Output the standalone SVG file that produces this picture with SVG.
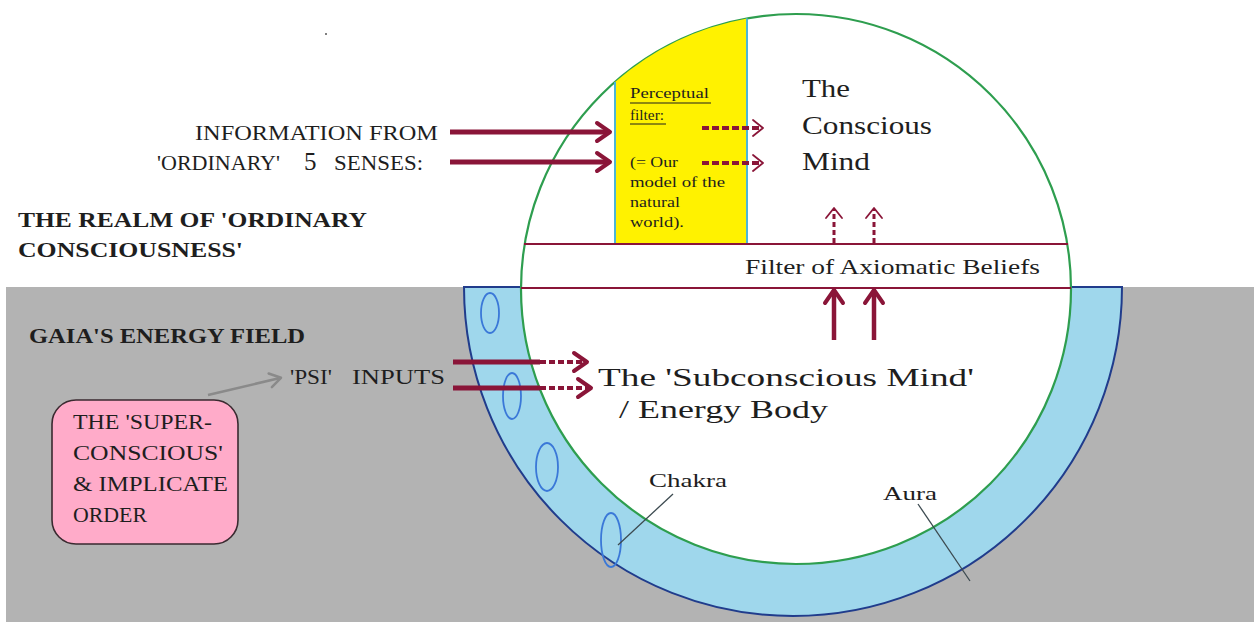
<svg xmlns="http://www.w3.org/2000/svg" width="1254" height="625" viewBox="0 0 1254 625">
<style>
.t{font-family:"Liberation Serif","Times New Roman",serif;fill:#1e1e1e}
.b{font-weight:bold;font-size:22px}
.mar{stroke:#8a1538;fill:none}
.chak{fill:none;stroke:#3a78d8;stroke-width:1.8}
.lead{stroke:#3c4a50;stroke-width:1.3;fill:none}
</style>
<defs>
<marker id="hThick" viewBox="-16 -12 20 24" markerWidth="20" markerHeight="24" refX="0" refY="0" orient="auto" markerUnits="userSpaceOnUse">
<path d="M-12,-9 L1,0 L-12,9" fill="none" stroke="#8a1538" stroke-width="4" stroke-linecap="round" stroke-linejoin="round"/>
</marker>
<marker id="hThin" viewBox="-14 -12 18 24" markerWidth="18" markerHeight="24" refX="0" refY="0" orient="auto" markerUnits="userSpaceOnUse">
<path d="M-9,-8 L1,0 L-9,8" fill="none" stroke="#8a1538" stroke-width="1.8" stroke-linecap="round" stroke-linejoin="round"/>
</marker>
<marker id="hGray" viewBox="-14 -12 18 24" markerWidth="18" markerHeight="24" refX="0" refY="0" orient="auto" markerUnits="userSpaceOnUse">
<path d="M-10,-7 L1,0 L-10,7" fill="none" stroke="#8a8a8a" stroke-width="2.5" stroke-linecap="round" stroke-linejoin="round"/>
</marker>
</defs>
<rect x="0" y="0" width="1254" height="625" fill="#ffffff"/>
<g id="gaia-field">
<rect x="6" y="287" width="1248" height="335" fill="#b3b3b3"/>
</g>
<g id="aura">
<path d="M464,287 A329,329 0 0 0 1122,287 Z" fill="#9fd7ec" stroke="#203c8c" stroke-width="2"/>
<ellipse class="chak" cx="490" cy="313" rx="9" ry="20"/>
<ellipse class="chak" cx="512" cy="396" rx="9" ry="23"/>
<ellipse class="chak" cx="547" cy="467" rx="11" ry="24"/>
<ellipse class="chak" cx="611" cy="540" rx="10" ry="27"/>
</g>
<g id="mind">
<circle cx="796" cy="289" r="275" fill="#ffffff" stroke="#2e9e4f" stroke-width="2.2"/>
</g>
<g id="perceptual-filter">
<path d="M615,82 A275,275 0 0 1 747,18.4 L747,244 L615,244 Z" fill="#fff200"/>
<line x1="615" y1="82" x2="615" y2="244" stroke="#4cb6d6" stroke-width="2"/>
<line x1="747" y1="18.4" x2="747" y2="244" stroke="#4cb6d6" stroke-width="2"/>
<text class="t" font-size="14" x="630" y="98" textLength="79" lengthAdjust="spacingAndGlyphs">Perceptual</text>
<line x1="630" y1="103" x2="711" y2="103" stroke="#1e1e1e" stroke-width="1"/>
<text class="t" font-size="14" x="630" y="120" textLength="34" lengthAdjust="spacingAndGlyphs">filter:</text>
<line x1="630" y1="124" x2="666" y2="124" stroke="#1e1e1e" stroke-width="1"/>
<text class="t" font-size="14" x="630" y="167" textLength="48" lengthAdjust="spacingAndGlyphs">(= Our</text>
<text class="t" font-size="14" x="630" y="187" textLength="95" lengthAdjust="spacingAndGlyphs">model of the</text>
<text class="t" font-size="14" x="630" y="207" textLength="50" lengthAdjust="spacingAndGlyphs">natural</text>
<text class="t" font-size="14" x="630" y="227" textLength="54" lengthAdjust="spacingAndGlyphs">world).</text>
</g>
<g id="filter-beliefs">
<line x1="524" y1="244" x2="1068" y2="244" stroke="#8a1538" stroke-width="2"/>
<line x1="521" y1="288" x2="1071" y2="288" stroke="#8a1538" stroke-width="2"/>
<text class="t" font-size="21" x="745" y="274" textLength="295" lengthAdjust="spacingAndGlyphs">Filter of Axiomatic Beliefs</text>
</g>
<g id="conscious-mind">
<text class="t" font-size="26" x="802" y="97" textLength="48" lengthAdjust="spacingAndGlyphs">The</text>
<text class="t" font-size="26" x="802" y="134" textLength="130" lengthAdjust="spacingAndGlyphs">Conscious</text>
<text class="t" font-size="26" x="802" y="170" textLength="68" lengthAdjust="spacingAndGlyphs">Mind</text>
</g>
<g id="subconscious-mind">
<text class="t" font-size="26" x="598" y="386" textLength="376" lengthAdjust="spacingAndGlyphs">The 'Subconscious Mind'</text>
<text class="t" font-size="26" x="619" y="418" textLength="209" lengthAdjust="spacingAndGlyphs">/ Energy Body</text>
</g>
<g id="senses-label">
<text class="t" font-size="21" x="195" y="140" textLength="243" lengthAdjust="spacingAndGlyphs">INFORMATION FROM</text>
<text class="t" font-size="21" y="170"><tspan x="157" textLength="123" lengthAdjust="spacingAndGlyphs">'ORDINARY'</tspan><tspan x="304" font-size="25">5</tspan><tspan x="334" textLength="89" lengthAdjust="spacingAndGlyphs">SENSES:</tspan></text>
</g>
<g id="realm-label">
<text class="t b" x="18" y="227" textLength="349" lengthAdjust="spacingAndGlyphs">THE REALM OF 'ORDINARY</text>
<text class="t b" x="18" y="257" textLength="225" lengthAdjust="spacingAndGlyphs">CONSCIOUSNESS'</text>
</g>
<g id="gaia-label">
<text class="t b" x="29" y="343" textLength="276" lengthAdjust="spacingAndGlyphs">GAIA'S ENERGY FIELD</text>
</g>
<g id="psi-label">
<text class="t" font-size="20" y="384"><tspan x="290" textLength="42" lengthAdjust="spacingAndGlyphs">'PSI'</tspan><tspan x="352" textLength="93" lengthAdjust="spacingAndGlyphs">INPUTS</tspan></text>
</g>
<g id="superconscious">
<rect x="52" y="400" width="186" height="144" rx="24" fill="#ffabc9" stroke="#3a2a30" stroke-width="1.6"/>
<text class="t" font-size="20" x="73" y="429" textLength="139" lengthAdjust="spacingAndGlyphs">THE 'SUPER-</text>
<text class="t" font-size="20" x="73" y="460" textLength="150" lengthAdjust="spacingAndGlyphs">CONSCIOUS'</text>
<text class="t" font-size="20" x="73" y="491" textLength="155" lengthAdjust="spacingAndGlyphs">&amp; IMPLICATE</text>
<text class="t" font-size="20" x="73" y="522" textLength="74" lengthAdjust="spacingAndGlyphs">ORDER</text>
</g>
<g id="chakra-label">
<text class="t" font-size="19" x="649" y="487" textLength="78" lengthAdjust="spacingAndGlyphs">Chakra</text>
</g>
<g id="aura-label">
<text class="t" font-size="19" x="883" y="500" textLength="54" lengthAdjust="spacingAndGlyphs">Aura</text>
</g>
<circle cx="326" cy="34" r="1" fill="#555"/>
<g id="connectors">
<line class="mar" x1="450" y1="132" x2="609" y2="132" stroke-width="5" marker-end="url(#hThick)"/>
<line class="mar" x1="450" y1="162" x2="609" y2="162" stroke-width="5" marker-end="url(#hThick)"/>
<line class="mar" x1="702" y1="128" x2="762" y2="128" stroke-width="4" stroke-dasharray="7,3" marker-end="url(#hThin)"/>
<line class="mar" x1="702" y1="163" x2="762" y2="163" stroke-width="4" stroke-dasharray="7,3" marker-end="url(#hThin)"/>
<line class="mar" x1="834" y1="243" x2="834" y2="209" stroke-width="3" stroke-dasharray="5,3" marker-end="url(#hThin)"/>
<line class="mar" x1="874" y1="243" x2="874" y2="209" stroke-width="3" stroke-dasharray="5,3" marker-end="url(#hThin)"/>
<line class="mar" x1="834" y1="340" x2="834" y2="291" stroke-width="4.5" marker-end="url(#hThick)"/>
<line class="mar" x1="874" y1="340" x2="874" y2="291" stroke-width="4.5" marker-end="url(#hThick)"/>
<line class="mar" x1="453" y1="362" x2="540" y2="362" stroke-width="5"/>
<line class="mar" x1="540" y1="362" x2="586" y2="362" stroke-width="4" stroke-dasharray="6,3" marker-end="url(#hThick)"/>
<line class="mar" x1="453" y1="388" x2="540" y2="388" stroke-width="5"/>
<line class="mar" x1="540" y1="388" x2="590" y2="388" stroke-width="4" stroke-dasharray="6,3" marker-end="url(#hThick)"/>
<line x1="208" y1="395" x2="280" y2="378" stroke="#8a8a8a" stroke-width="2.5" marker-end="url(#hGray)"/>
<line class="lead" x1="673" y1="494" x2="618" y2="545"/>
<line class="lead" x1="918" y1="504" x2="970" y2="581"/>
</g>
</svg>
